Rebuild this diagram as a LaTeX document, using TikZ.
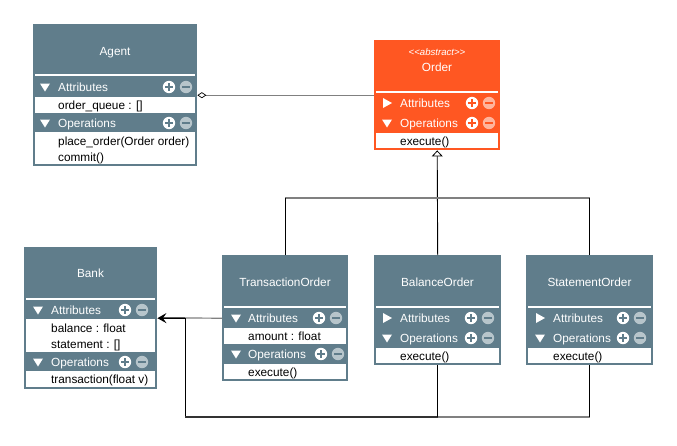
\documentclass[tikz,border=0pt]{standalone}
\usepackage{fontspec}
\setmainfont{Liberation Sans}
\usetikzlibrary{arrows.meta,positioning}
\definecolor{classgray}{HTML}{607D8B}
\definecolor{classorange}{HTML}{FF5722}
\definecolor{linegray}{HTML}{808080}
\newcommand\iconsep{17}
\newcommand\rowicons[3]{%
  \fill[white] (#1,#2) circle (6.2pt);
  \draw[#3,line width=2pt] (#1-3.6,#2) -- (#1+3.6,#2) (#1,#2-3.6) -- (#1,#2+3.6);
  \fill[#3!45!white] (#1+\iconsep,#2) circle (6.2pt);
  \draw[#3,line width=2pt] (#1+\iconsep-3.6,#2) -- (#1+\iconsep+3.6,#2);}
\newcommand\downtri[2]{\fill[white] (#1-5,#2-3.5) -- (#1+5,#2-3.5) -- (#1,#2+4.5) -- cycle;}
\newcommand\righttri[2]{\fill[white] (#1-4,#2-5) -- (#1+5,#2) -- (#1-4,#2+5) -- cycle;}

\begin{document}
\begin{tikzpicture}[x=1pt,y=-1pt,
    font=\fontsize{11.8}{14}\selectfont,
    classbox/.style={fill=classgray,inner sep=0pt,anchor=north west},
    titletext/.style={text=white,inner sep=0pt,text height=8.5pt,text depth=0pt},
    rowlabel/.style={text=white,anchor=west,inner sep=0pt,text height=8.5pt,text depth=0pt},
    fieldtext/.style={text=black,anchor=west,inner sep=0pt,text height=8.5pt,text depth=0pt},
    sepline/.style={white,line width=2pt},
    grayline/.style={linegray,line width=1.2pt},
    blackline/.style={black,line width=0.9pt},
    darkline/.style={black!80,line width=1.4pt}]
  \useasboundingbox[fill=white] (0,0) rectangle (677,445);

  % Agent
  \node[classbox,minimum width=164pt,minimum height=142pt] (agent) at (33,24) {};
  \node[titletext] (agenttitle) at (115,51) {Agent};
  \draw[sepline] (35,75) -- (195,75);
  \downtri{45}{87}
  \node[rowlabel] (agentattr) at (58,87) {Attributes};
  \rowicons{169}{87}{classgray}
  \fill[white] (35,97) rectangle (195,113);
  \node[fieldtext] (agentqueue) at (58,105) {order\_queue : []};
  \downtri{45}{123}
  \node[rowlabel] (agentops) at (58,123) {Operations};
  \rowicons{169}{123}{classgray}
  \fill[white] (35,132) rectangle (195,164);
  \node[fieldtext] (agentplace) at (58,141) {place\_order(Order order)};
  \node[fieldtext] (agentcommit) at (58,157) {commit()};

  % Order
  \node[classbox,fill=classorange,minimum width=126pt,minimum height=110pt] (order) at (374,40) {};
  \node[titletext,font=\fontsize{9.6}{11}\selectfont\itshape,text height=7pt] (orderstereo) at (437,52) {<\kern0pt<abstract>\kern0pt>};
  \node[titletext] (ordertitle) at (437,67) {Order};
  \draw[sepline] (376,92) -- (498,92);
  \righttri{387}{103}
  \node[rowlabel] (orderattr) at (400,103) {Attributes};
  \rowicons{472}{103}{classorange}
  \downtri{387}{123}
  \node[rowlabel] (orderops) at (400,123) {Operations};
  \rowicons{472}{123}{classorange}
  \fill[white] (376,133) rectangle (498,148);
  \node[fieldtext] (orderexec) at (400,141) {execute()};

  % Bank
  \node[classbox,minimum width=133pt,minimum height=142pt] (bank) at (24,247) {};
  \node[titletext] (banktitle) at (90.5,273) {Bank};
  \draw[sepline] (26,299) -- (155,299);
  \downtri{38}{310}
  \node[rowlabel] (bankattr) at (51,310) {Attributes};
  \rowicons{125}{310}{classgray}
  \fill[white] (26,319) rectangle (155,352);
  \node[fieldtext] (bankbalance) at (51,328) {balance : float};
  \node[fieldtext] (bankstatement) at (51,344) {statement : []};
  \downtri{38}{362}
  \node[rowlabel] (bankops) at (51,362) {Operations};
  \rowicons{125}{362}{classgray}
  \fill[white] (26,371) rectangle (155,387);
  \node[fieldtext] (banktrans) at (51,379) {transaction(float v)};

  % TransactionOrder
  \node[classbox,minimum width=126pt,minimum height=126pt] (trans) at (222,255) {};
  \node[titletext] (transtitle) at (285,282) {TransactionOrder};
  \draw[sepline] (224,307) -- (346,307);
  \downtri{236}{318}
  \node[rowlabel] (transattr) at (248,318) {Attributes};
  \rowicons{319}{318}{classgray}
  \fill[white] (224,328) rectangle (346,344);
  \node[fieldtext] (transamount) at (248,336) {amount : float};
  \downtri{236}{354}
  \node[rowlabel] (transops) at (248,354) {Operations};
  \rowicons{321}{354}{classgray}
  \fill[white] (224,364) rectangle (346,379);
  \node[fieldtext] (transexec) at (248,372) {execute()};

  % BalanceOrder
  \node[classbox,minimum width=127pt,minimum height=110pt] (balance) at (374,255) {};
  \node[titletext] (balancetitle) at (437.5,282) {BalanceOrder};
  \draw[sepline] (376,307) -- (499,307);
  \righttri{387}{318}
  \node[rowlabel] (balanceattr) at (400,318) {Attributes};
  \rowicons{471}{318}{classgray}
  \downtri{387}{338}
  \node[rowlabel] (balanceops) at (400,338) {Operations};
  \rowicons{471}{338}{classgray}
  \fill[white] (376,348) rectangle (499,363);
  \node[fieldtext] (balanceexec) at (400,356) {execute()};

  % StatementOrder
  \node[classbox,minimum width=127pt,minimum height=110pt] (stmt) at (526,255) {};
  \node[titletext] (stmttitle) at (589.5,282) {StatementOrder};
  \draw[sepline] (528,307) -- (651,307);
  \righttri{540}{318}
  \node[rowlabel] (stmtattr) at (553,318) {Attributes};
  \rowicons{623}{318}{classgray}
  \downtri{540}{338}
  \node[rowlabel] (stmtops) at (553,338) {Operations};
  \rowicons{623}{338}{classgray}
  \fill[white] (528,348) rectangle (651,363);
  \node[fieldtext] (stmtexec) at (553,356) {execute()};

  % association
  \draw[grayline,{Diamond[color=black,fill=white,length=9pt,width=6pt,line width=0.7pt]}-] (agent.east) -- (order.west);

  % generalisation
  \coordinate (split) at (437,198);
  \draw[blackline,{Triangle[color=black,fill=white,length=6pt,width=11pt,line width=0.8pt]}-] (order.south) -- (balance.north);
  \draw[grayline] (trans.north |- split) -- (stmt.north |- split);
  \draw[blackline] (trans.north) -- (trans.north |- split);
  \draw[blackline] (stmt.north) -- (stmt.north |- split);

  % dependency on Bank
  \coordinate (bend) at (185,318);
  \coordinate (low) at (185,417);
  \draw[grayline] (trans.west) -- (bend);
  \draw[blackline,line width=1.5pt,-{Stealth[length=9pt,width=10pt,inset=3.5pt]}] (bend) -- (bank.east);
  \draw[blackline] (bend) -- (low);
  \draw[darkline] (low) -- (balance.south |- low);
  \draw[blackline] (balance.south) -- (balance.south |- low);
  \draw[grayline] (balance.south |- low) -- (stmt.south |- low);
  \draw[blackline] (stmt.south) -- (stmt.south |- low);
\end{tikzpicture}
\end{document}
